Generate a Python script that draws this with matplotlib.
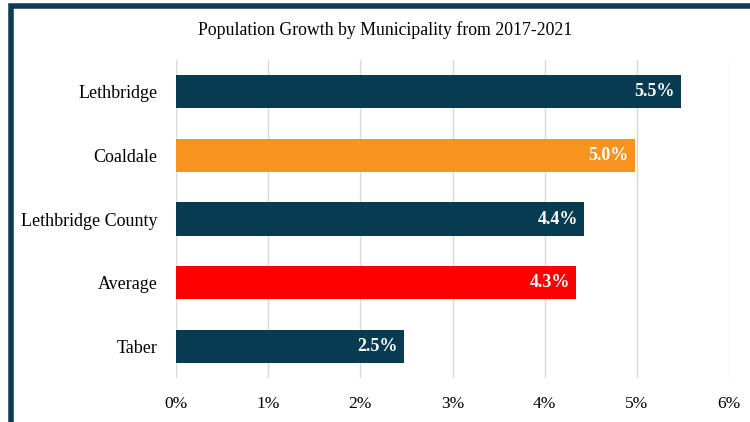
import matplotlib.pyplot as plt
from matplotlib.patches import Rectangle

plt.rcParams['font.family'] = ['Liberation Serif', 'DejaVu Serif']

municipalities = ['Lethbridge', 'Coaldale', 'Lethbridge County', 'Average', 'Taber']
growth = [5.48, 4.98, 4.43, 4.34, 2.47]
labels = ['5.5%', '5.0%', '4.4%', '4.3%', '2.5%']
bar_colors = ['#073b52', '#f7931e', '#073b52', '#ff0000', '#073b52']

fig = plt.figure(figsize=(7.5, 4.22), dpi=100)
ax = fig.add_axes([0.2347, 0.104, 0.7373, 0.754])

# dark frame around the chart (cropped at right and bottom)
fig.patches.append(Rectangle((10.5 / 750, -0.05), 1.0, 1.05 - 5.5 / 422,
                             transform=fig.transFigure, fill=False,
                             edgecolor='#0d3d55', linewidth=4, zorder=0))

ypos = list(range(len(municipalities)))
bars = ax.barh(ypos, growth, height=0.52, color=bar_colors, zorder=3)

for bar, txt in zip(bars, labels):
    ax.text(bar.get_width() - 0.065, bar.get_y() + bar.get_height() / 2, txt,
            ha='right', va='center', color='white', fontsize=13, fontweight='bold', zorder=4)

ax.set_yticks(ypos)
ax.set_yticklabels(municipalities, fontsize=13)
ax.set_ylim(4.5, -0.5)
ax.set_xlim(0, 6)
ax.set_xticks(range(7))
ax.set_xticklabels([f'{i}%' for i in range(7)], fontsize=12.5)
ax.tick_params(axis='x', length=0, pad=13)
ax.tick_params(axis='y', length=0, pad=13.5)
ax.xaxis.grid(True, color='#d9d9d9', linewidth=1, zorder=0)
for s in ax.spines.values():
    s.set_visible(False)

fig.text(0.513, 0.929, 'Population Growth by Municipality from 2017-2021',
         ha='center', va='center', fontsize=12.8)

fig.savefig('out.png', dpi=100)
